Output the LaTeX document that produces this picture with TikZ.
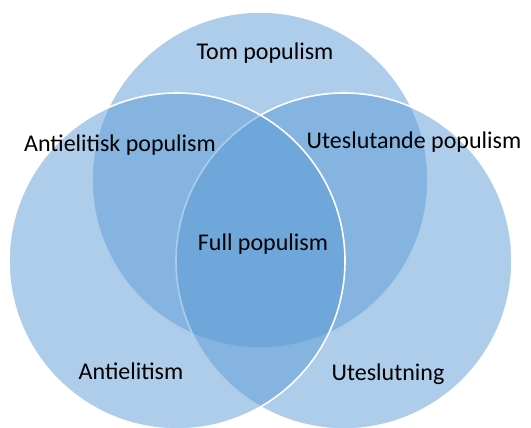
\documentclass[tikz,border=0pt]{standalone}
\usepackage{fontspec}
\setmainfont{Carlito}
\definecolor{acc}{HTML}{5B9BD5}
\begin{document}
\begin{tikzpicture}[x=1pt,y=-1pt,
  venn/.style={circle,minimum size=336pt,inner sep=0pt,fill=acc,fill opacity=0.5,draw=white,draw opacity=1,line width=1.6pt},
  lbl/.style={font=\fontsize{24}{28}\selectfont,text=black,anchor=base,inner sep=0pt}]
\useasboundingbox (0,0) rectangle (531,428);
\node[venn] (top) at (260,180) {};
\node[venn] (right) at (344,261) {};
\node[venn] (left) at (177,261) {};
\node[lbl] (t1) at (265,60) {Tom populism};
\node[lbl] (t2) at (120,152) {Antielitisk populism};
\node[lbl] (t3) at (414,149) {Uteslutande populism};
\node[lbl] (t4) at (263,250) {Full populism};
\node[lbl] (t5) at (131,379) {Antielitism};
\node[lbl] (t6) at (388,380) {Uteslutning};
\end{tikzpicture}
\end{document}
